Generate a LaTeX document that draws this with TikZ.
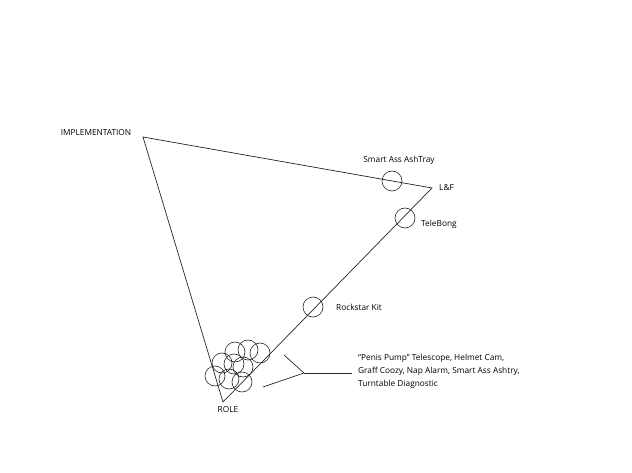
\documentclass[tikz,border=0pt]{standalone}
\usepackage{fontspec}
\setmainfont{Open Sans}
\usetikzlibrary{positioning}
\usetikzlibrary{calc}
\tikzset{ %styles for the triangle picture
  ring/.style={draw=black!85,circle,minimum size=20pt,inner sep=0pt,line width=0.6pt},
  lbl/.style={font=\fontsize{8.3}{13}\selectfont,inner sep=0pt},
  edge/.style={draw=black!85,line width=0.7pt}
}
\begin{document}
\begin{tikzpicture}[x=1pt,y=-1pt] % pixel grid of the sketch
\useasboundingbox (0,0) rectangle (632,473);

% corners of the triangle
\coordinate (impl) at (143,137);
\coordinate (lf) at (432,188);
\coordinate (role) at (223,402);
\draw[edge] (impl) -- (lf) -- (role) -- cycle;

% corner labels
\node[lbl] (implLabel) at (96,133) {IMPLEMENTATION};
\node[lbl,anchor=west] (lfLabel) at (439,188) {L\&F};
\node[lbl] (roleLabel) at (228,410) {ROLE};

% products along the edges
\node[ring] (ashtray) at (392,181) {};
\node[lbl] (ashtrayLabel) at (399,160) {Smart Ass AshTray};
\node[ring] (telebong) at (405,218) {};
\node[lbl,anchor=west] (telebongLabel) at (421,224) {TeleBong};
\node[ring] (rockstar) at (313,307) {};
\node[lbl,anchor=west] (rockstarLabel) at (336,307) {Rockstar Kit};

% the heap near ROLE
\node[ring] (c1) at (235,352) {};
\node[ring] (c2) at (248,350) {};
\node[ring] (c3) at (260,353) {};
\node[ring] (c4) at (222,363) {};
\node[ring] (c5) at (234,364) {};
\node[ring] (c6) at (243,367) {};
\node[ring] (c7) at (215,376) {};
\node[ring] (c8) at (229,379) {};
\node[ring] (c9) at (242,382) {};

% bracket and its text
\node[lbl,anchor=west,align=left] (heapLabel) at (358,371)
  {“Penis Pump” Telescope, Helmet Cam,\\Graff Coozy, Nap Alarm, Smart Ass Ashtry,\\Turntable Diagnostic};
\coordinate (bTop) at (284,355);
\coordinate (bBot) at (263,387);
\coordinate (bMid) at (304,373);
\coordinate (bEnd) at (352,373);
\draw[edge] (bTop) -- (bMid) -- (bBot);
\draw[edge] (bMid) -- (bEnd);
\end{tikzpicture}
\end{document}
